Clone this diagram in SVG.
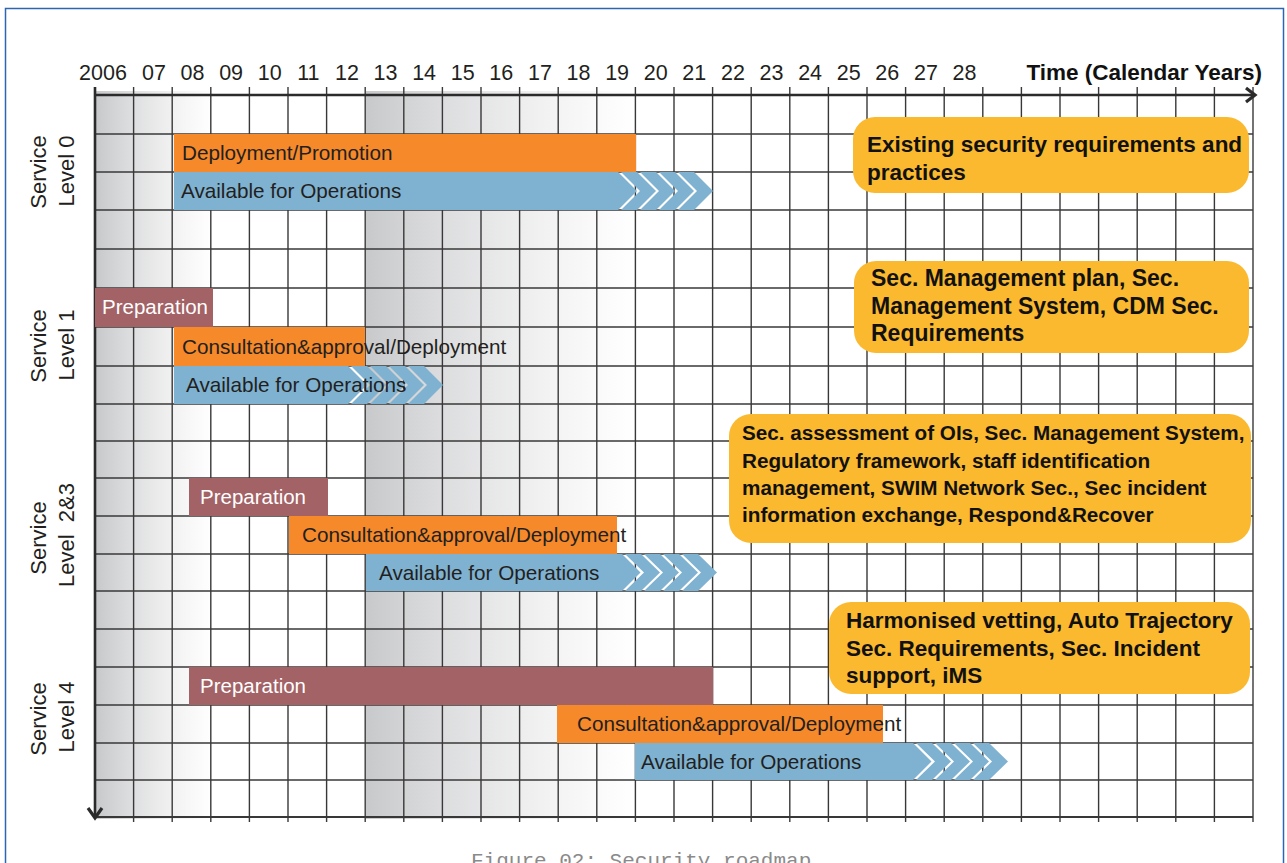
<svg xmlns="http://www.w3.org/2000/svg" xmlns:xlink="http://www.w3.org/1999/xlink" width="1287" height="863" viewBox="0 0 1287 863">
<style>
.grid line{stroke:#383838;stroke-width:1.4}
.yr{font-family:"Liberation Sans",Arial,sans-serif;font-size:21.5px;fill:#231f20;text-anchor:middle}
.axt{font-family:"Liberation Sans",Arial,sans-serif;font-size:22.5px;font-weight:bold;fill:#111;text-anchor:end}
.lvl{font-family:"Liberation Sans",Arial,sans-serif;font-size:22px;fill:#231f20;text-anchor:middle}
.bt{font-family:"Liberation Sans",Arial,sans-serif;font-size:20.7px;fill:#231f20}
.bw{font-family:"Liberation Sans",Arial,sans-serif;font-size:20.5px;fill:#ffffff}
.or{fill:#f6892a}
.bl{fill:#7fb2d1}
.pr{fill:#a36265}
.yb{fill:#fbb92f}
.ct{font-family:"Liberation Sans",Arial,sans-serif;font-size:22.5px;font-weight:bold;fill:#111}
.ax{stroke:#2b2b2b;fill:none;stroke-linecap:butt}
.cap{font-family:"Liberation Mono","Courier New",monospace;font-size:21px;fill:#8a8a8a}
</style>
<defs>
<linearGradient id="g1" x1="0" y1="0" x2="1" y2="0">
<stop offset="0" stop-color="#c7c8ca"/>
<stop offset="1" stop-color="#ffffff" stop-opacity="0.6"/>
</linearGradient>
<linearGradient id="g2" x1="0" y1="0" x2="1" y2="0">
<stop offset="0" stop-color="#c8c9cb"/>
<stop offset="1" stop-color="#ffffff" stop-opacity="0.6"/>
</linearGradient>
<path id="chev" class="bl" d="M0,0 H16 L35,19 L16,38 H0 L19,19 Z"/>
</defs>

<rect x="5.5" y="8.5" width="1278" height="900" fill="none" stroke="#2e64b0" stroke-width="1.5"/>

<!-- shaded bands -->
<rect x="95" y="91" width="118" height="728" fill="url(#g1)"/>
<rect x="366" y="91" width="270" height="728" fill="url(#g2)"/>

<!-- grid -->
<g class="grid">
<line x1="133.6" y1="87" x2="133.6" y2="822"/>
<line x1="172.2" y1="87" x2="172.2" y2="822"/>
<line x1="210.8" y1="87" x2="210.8" y2="822"/>
<line x1="249.4" y1="87" x2="249.4" y2="822"/>
<line x1="288" y1="87" x2="288" y2="822"/>
<line x1="326.6" y1="87" x2="326.6" y2="822"/>
<line x1="365.2" y1="87" x2="365.2" y2="822"/>
<line x1="403.8" y1="87" x2="403.8" y2="822"/>
<line x1="442.4" y1="87" x2="442.4" y2="822"/>
<line x1="481" y1="87" x2="481" y2="822"/>
<line x1="519.6" y1="87" x2="519.6" y2="822"/>
<line x1="558.2" y1="87" x2="558.2" y2="822"/>
<line x1="596.8" y1="87" x2="596.8" y2="822"/>
<line x1="635.4" y1="87" x2="635.4" y2="822"/>
<line x1="674" y1="87" x2="674" y2="822"/>
<line x1="712.6" y1="87" x2="712.6" y2="822"/>
<line x1="751.2" y1="87" x2="751.2" y2="822"/>
<line x1="789.8" y1="87" x2="789.8" y2="822"/>
<line x1="828.4" y1="87" x2="828.4" y2="822"/>
<line x1="867" y1="87" x2="867" y2="822"/>
<line x1="905.6" y1="87" x2="905.6" y2="822"/>
<line x1="944.2" y1="87" x2="944.2" y2="822"/>
<line x1="982.8" y1="87" x2="982.8" y2="822"/>
<line x1="1021.4" y1="87" x2="1021.4" y2="822"/>
<line x1="1060" y1="87" x2="1060" y2="822"/>
<line x1="1098.6" y1="87" x2="1098.6" y2="822"/>
<line x1="1137.2" y1="87" x2="1137.2" y2="822"/>
<line x1="1175.8" y1="87" x2="1175.8" y2="822"/>
<line x1="1214.4" y1="87" x2="1214.4" y2="822"/>
<line x1="1253" y1="87" x2="1253" y2="822"/>
<line x1="95" y1="134" x2="1253" y2="134"/>
<line x1="95" y1="172" x2="1253" y2="172"/>
<line x1="95" y1="210" x2="1253" y2="210"/>
<line x1="95" y1="249" x2="1253" y2="249"/>
<line x1="95" y1="288" x2="1253" y2="288"/>
<line x1="95" y1="327" x2="1253" y2="327"/>
<line x1="95" y1="366" x2="1253" y2="366"/>
<line x1="95" y1="404" x2="1253" y2="404"/>
<line x1="95" y1="441" x2="1253" y2="441"/>
<line x1="95" y1="478" x2="1253" y2="478"/>
<line x1="95" y1="516" x2="1253" y2="516"/>
<line x1="95" y1="554" x2="1253" y2="554"/>
<line x1="95" y1="591" x2="1253" y2="591"/>
<line x1="95" y1="629" x2="1253" y2="629"/>
<line x1="95" y1="667" x2="1253" y2="667"/>
<line x1="95" y1="705" x2="1253" y2="705"/>
<line x1="95" y1="743" x2="1253" y2="743"/>
<line x1="95" y1="780" x2="1253" y2="780"/>
<line x1="95" y1="817" x2="1253" y2="817" style="stroke-width:2"/>
</g>

<!-- axes (connectors) -->
<g id="connectors">
<line class="ax" x1="95" y1="95" x2="1254" y2="95" stroke-width="2.6"/>
<polyline class="ax" points="1246,88 1255,95 1246,102" stroke-width="3.2"/>
<line class="ax" x1="95" y1="87" x2="95" y2="818" stroke-width="2.6"/>
<polyline class="ax" points="88,808 95,818 102,808" stroke-width="3.2"/>
</g>

<!-- year axis labels -->
<g id="years">
<text class="yr" x="103" y="80">2006</text>
<text class="yr" x="153.9" y="80">07</text>
<text class="yr" x="192.5" y="80">08</text>
<text class="yr" x="231.1" y="80">09</text>
<text class="yr" x="269.7" y="80">10</text>
<text class="yr" x="308.3" y="80">11</text>
<text class="yr" x="346.9" y="80">12</text>
<text class="yr" x="385.5" y="80">13</text>
<text class="yr" x="424.1" y="80">14</text>
<text class="yr" x="462.7" y="80">15</text>
<text class="yr" x="501.3" y="80">16</text>
<text class="yr" x="539.9" y="80">17</text>
<text class="yr" x="578.5" y="80">18</text>
<text class="yr" x="617.1" y="80">19</text>
<text class="yr" x="655.7" y="80">20</text>
<text class="yr" x="694.3" y="80">21</text>
<text class="yr" x="732.9" y="80">22</text>
<text class="yr" x="771.5" y="80">23</text>
<text class="yr" x="810.1" y="80">24</text>
<text class="yr" x="848.7" y="80">25</text>
<text class="yr" x="887.3" y="80">26</text>
<text class="yr" x="925.9" y="80">27</text>
<text class="yr" x="964.5" y="80">28</text>
<text class="axt" x="1262" y="80">Time (Calendar Years)</text>
</g>

<!-- level labels -->
<g id="label-l0">
<text class="lvl" transform="translate(46,172) rotate(-90)">Service</text>
<text class="lvl" transform="translate(74,171) rotate(-90)">Level 0</text>
</g>
<g id="label-l1">
<text class="lvl" transform="translate(46,346) rotate(-90)">Service</text>
<text class="lvl" transform="translate(74,345) rotate(-90)">Level 1</text>
</g>
<g id="label-l23">
<text class="lvl" transform="translate(46,538) rotate(-90)">Service</text>
<text class="lvl" transform="translate(74,535) rotate(-90)" xml:space="preserve">Level  2&amp;3</text>
</g>
<g id="label-l4">
<text class="lvl" transform="translate(46,719) rotate(-90)">Service</text>
<text class="lvl" transform="translate(74,717) rotate(-90)">Level 4</text>
</g>

<!-- Service Level 0 -->
<g id="l0-deploy">
<rect class="or" x="174" y="134" width="462" height="38"/>
<text class="bt" x="182" y="160">Deployment/Promotion</text>
</g>
<g id="l0-avail">
<polygon class="bl" points="174,172 618,172 637,191 618,210 174,210"/>
<use xlink:href="#chev" x="621" y="172"/>
<use xlink:href="#chev" x="640" y="172"/>
<use xlink:href="#chev" x="659" y="172"/>
<use xlink:href="#chev" x="678" y="172"/>
<text class="bt" x="181" y="198">Available for Operations</text>
</g>

<!-- Service Level 1 -->
<g id="l1-prep">
<rect class="pr" x="95" y="288" width="118" height="39"/>
<text class="bw" x="102" y="314">Preparation</text>
</g>
<g id="l1-consult">
<rect class="or" x="174" y="327" width="191" height="39"/>
<text class="bt" x="182" y="354">Consultation&amp;approval/Deployment</text>
</g>
<g id="l1-avail">
<polygon class="bl" points="174,366 348,366 367,385 348,404 174,404"/>
<use xlink:href="#chev" x="351" y="366"/>
<use xlink:href="#chev" x="370" y="366"/>
<use xlink:href="#chev" x="389" y="366"/>
<use xlink:href="#chev" x="408" y="366"/>
<text class="bt" x="186" y="392">Available for Operations</text>
</g>

<!-- Service Level 2&3 -->
<g id="l23-prep">
<rect class="pr" x="189" y="478" width="139" height="38"/>
<text class="bw" x="200" y="504">Preparation</text>
</g>
<g id="l23-consult">
<rect class="or" x="289" y="516" width="328" height="38"/>
<text class="bt" x="302" y="542">Consultation&amp;approval/Deployment</text>
</g>
<g id="l23-avail">
<polygon class="bl" points="366,554 622,554 640.5,572.5 622,591 366,591"/>
<use xlink:href="#chev" transform="translate(625,554) scale(1,0.974)"/>
<use xlink:href="#chev" transform="translate(644,554) scale(1,0.974)"/>
<use xlink:href="#chev" transform="translate(663,554) scale(1,0.974)"/>
<use xlink:href="#chev" transform="translate(682,554) scale(1,0.974)"/>
<text class="bt" x="379" y="580">Available for Operations</text>
</g>

<!-- Service Level 4 -->
<g id="l4-prep">
<rect class="pr" x="189" y="667" width="524" height="38"/>
<text class="bw" x="200" y="693">Preparation</text>
</g>
<g id="l4-consult">
<rect class="or" x="557" y="705" width="326" height="38"/>
<text class="bt" x="577" y="731">Consultation&amp;approval/Deployment</text>
</g>
<g id="l4-avail">
<polygon class="bl" points="635,743 913,743 931.5,761.5 913,780 635,780"/>
<use xlink:href="#chev" transform="translate(916,743) scale(1,0.974)"/>
<use xlink:href="#chev" transform="translate(935,743) scale(1,0.974)"/>
<use xlink:href="#chev" transform="translate(954,743) scale(1,0.974)"/>
<use xlink:href="#chev" transform="translate(973,743) scale(1,0.974)"/>
<text class="bt" x="641" y="769">Available for Operations</text>
</g>

<!-- callouts -->
<g id="note-l0">
<rect class="yb" x="853" y="117" width="396" height="76" rx="22"/>
<text class="ct" x="867" y="152">Existing security requirements and</text>
<text class="ct" x="867" y="179.5">practices</text>
</g>
<g id="note-l1">
<rect class="yb" x="854" y="261" width="395" height="92" rx="22"/>
<text class="ct" x="871" y="286" style="font-size:23px">Sec. Management plan, Sec.</text>
<text class="ct" x="871" y="313.5" style="font-size:23px">Management System, CDM Sec.</text>
<text class="ct" x="871" y="341" style="font-size:23px">Requirements</text>
</g>
<g id="note-l23">
<rect class="yb" x="729" y="414" width="522" height="129" rx="22"/>
<text class="ct" x="742" y="440" style="font-size:20.7px">Sec. assessment of OIs, Sec. Management System,</text>
<text class="ct" x="742" y="467.5" style="font-size:20.7px">Regulatory framework, staff identification</text>
<text class="ct" x="742" y="495" style="font-size:20.7px">management, SWIM Network Sec., Sec incident</text>
<text class="ct" x="742" y="521.5" style="font-size:20.7px">information exchange, Respond&amp;Recover</text>
</g>
<g id="note-l4">
<rect class="yb" x="829" y="602" width="421" height="92" rx="22"/>
<text class="ct" x="846" y="628">Harmonised vetting, Auto Trajectory</text>
<text class="ct" x="846" y="655.5">Sec. Requirements, Sec. Incident</text>
<text class="ct" x="846" y="683">support, iMS</text>
</g>

<text class="cap" x="471" y="867">Figure 02: Security roadmap</text>
</svg>
